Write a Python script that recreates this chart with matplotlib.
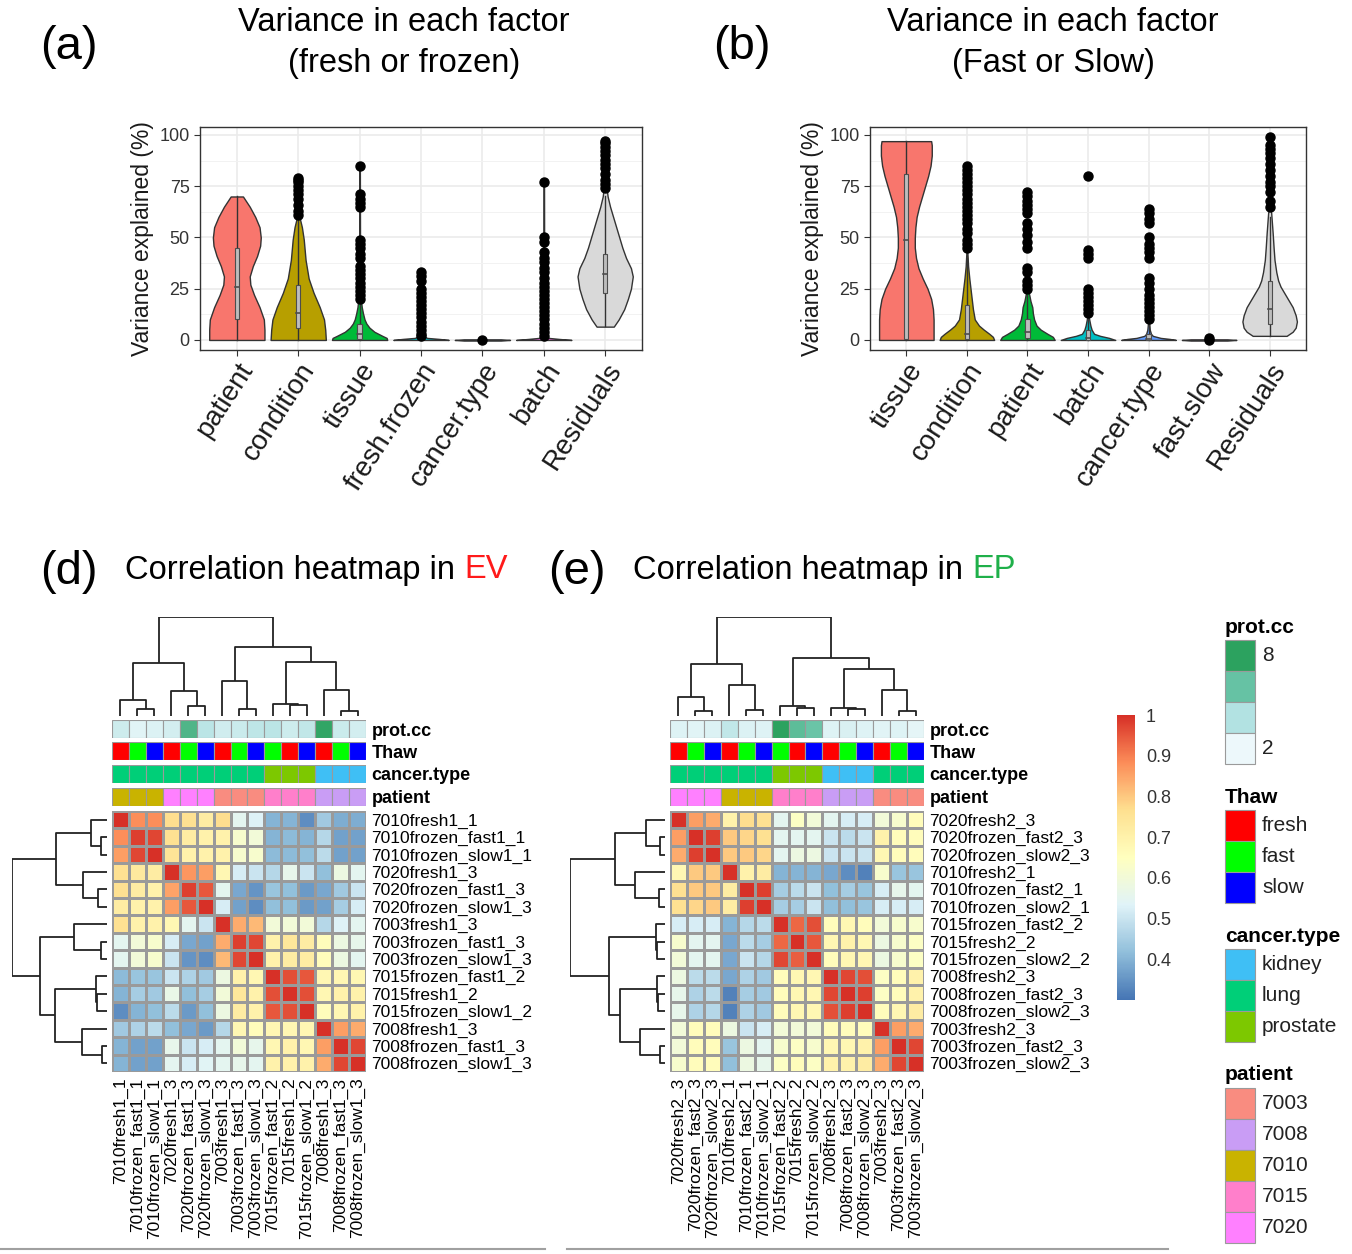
import numpy as np
import matplotlib
matplotlib.use('Agg')
import matplotlib.pyplot as plt
from matplotlib.colors import LinearSegmentedColormap
from matplotlib.patches import Rectangle
from matplotlib.lines import Line2D

plt.rcParams['font.family'] = ['Liberation Sans', 'DejaVu Sans']

# ---------------- violin data: panel (a) fresh or frozen ----------------
factors_a = ['patient', 'condition', 'tissue', 'fresh.frozen', 'cancer.type', 'batch', 'Residuals']
prof_y_a = [
    [0, 5, 10, 16, 22, 27, 31, 36, 41, 46, 50, 55, 60, 65, 70],
    [0, 5, 10, 16, 23, 30, 39, 49, 55, 60],
    [0, 1, 2, 4, 6, 8, 10, 13, 16, 20, 30, 85],
    [0, 0.5, 1, 2, 4, 33],
    [-0.3, 0, 0.3],
    [0, 0.5, 1, 2, 4, 77],
    [6.5, 10, 15, 20, 25, 31, 35, 40, 45, 50, 55, 60, 65, 70, 75, 98],
]
prof_w_a = [
    [0.45, 0.45, 0.44, 0.37, 0.28, 0.22, 0.21, 0.26, 0.33, 0.38, 0.39, 0.37, 0.30, 0.21, 0.10],
    [0.45, 0.44, 0.42, 0.35, 0.25, 0.17, 0.12, 0.09, 0.06, 0.02],
    [0.45, 0.44, 0.37, 0.24, 0.16, 0.11, 0.08, 0.055, 0.035, 0.02, 0.008, 0.004],
    [0.45, 0.30, 0.10, 0.03, 0.01, 0.004],
    [0.30, 0.45, 0.30],
    [0.45, 0.25, 0.08, 0.02, 0.008, 0.004],
    [0.14, 0.22, 0.31, 0.37, 0.42, 0.45, 0.42, 0.34, 0.28, 0.23, 0.18, 0.13, 0.08, 0.04, 0.02, 0.004],
]
# lower whisker, q1, median, q3, upper whisker
box_a = [[0, 10, 26, 45, 70], [0, 6, 13, 27, 60], [0, 0.5, 3, 8, 20], [0, 0, 0.2, 0.5, 1.5],
         [0, 0, 0, 0, 0], [0, 0, 0.2, 0.5, 1.5], [7, 23, 32, 42, 70]]
dots_a = [
    [],
    [61, 63, 66, 69, 71, 73, 75, 77, 78, 79],
    [20, 22, 24, 26, 28, 30, 32, 34, 36, 40, 42, 45, 47, 49, 65, 67, 69, 71, 85],
    [2, 3, 5, 7, 9, 11, 13, 15, 17, 19, 21, 23, 25, 29, 31, 33],
    [0],
    [2, 4, 6, 8, 10, 12, 14, 16, 18, 20, 22, 24, 26, 28, 30, 33, 35, 38, 40, 43, 48, 50, 77],
    [74, 76, 78, 81, 84, 86, 88, 90, 92, 94, 96, 97],
]

# ---------------- violin data: panel (b) fast or slow ----------------
factors_b = ['tissue', 'condition', 'patient', 'batch', 'cancer.type', 'fast.slow', 'Residuals']
prof_y_b = [
    [0, 5, 10, 15, 20, 25, 30, 35, 40, 45, 50, 55, 60, 65, 70, 75, 80, 85, 90, 95, 97],
    [0, 1.5, 3, 5, 7, 10, 15, 20, 25, 30, 36, 45],
    [0, 1.5, 3, 5, 7, 10, 13, 16, 19, 22, 25],
    [0, 1, 2, 3, 5, 7, 10, 13],
    [0, 0.5, 1, 2, 3, 5, 10],
    [-0.3, 0, 0.3],
    [2, 4, 6, 9, 12, 16, 20, 23, 26, 29, 33, 39, 45, 52, 58, 62, 65],
]
prof_w_b = [
    [0.45, 0.45, 0.45, 0.44, 0.41, 0.35, 0.27, 0.20, 0.16, 0.14, 0.14, 0.15, 0.17, 0.21, 0.26, 0.31, 0.36, 0.40, 0.42, 0.42, 0.41],
    [0.45, 0.43, 0.37, 0.28, 0.20, 0.13, 0.10, 0.08, 0.06, 0.04, 0.02, 0.004],
    [0.45, 0.42, 0.33, 0.22, 0.15, 0.11, 0.09, 0.08, 0.05, 0.03, 0.004],
    [0.45, 0.35, 0.20, 0.10, 0.06, 0.04, 0.02, 0.004],
    [0.45, 0.35, 0.20, 0.07, 0.04, 0.02, 0.004],
    [0.30, 0.45, 0.30],
    [0.28, 0.38, 0.43, 0.45, 0.43, 0.38, 0.30, 0.24, 0.18, 0.14, 0.11, 0.08, 0.065, 0.05, 0.035, 0.025, 0.004],
]
box_b = [[0, 0.5, 49, 81, 97], [0, 0.5, 3, 17, 40], [0, 1, 4, 10, 22], [0, 0.2, 1, 5, 12],
         [0, 0, 0.5, 3, 8], [0, 0, 0, 0, 0], [2, 8, 15, 29, 60]]
dots_b = [
    [],
    [45, 47, 49, 52, 54, 57, 59, 61, 63, 65, 67, 69, 71, 73, 75, 77, 79, 81, 83, 85],
    [25, 27, 29, 33, 35, 45, 48, 51, 54, 57, 62, 64, 66, 68, 70, 72],
    [13, 15, 17, 19, 21, 23, 25, 40, 42, 44, 80],
    [10, 12, 14, 16, 18, 20, 22, 25, 28, 30, 40, 43, 45, 47, 50, 57, 59, 62, 64],
    [0, 1],
    [65, 68, 72, 75, 77, 80, 83, 86, 89, 91, 93, 95, 99],
]
violin_colors = ['#F8766D', '#B79F00', '#00BA38', '#00BFC4', '#619CFF', '#F564E3', '#D9D9D9']

# ---------------- heatmap (d) EV ----------------
labels_ev = ['7010fresh1_1', '7010frozen_fast1_1', '7010frozen_slow1_1', '7020fresh1_3',
             '7020frozen_fast1_3', '7020frozen_slow1_3', '7003fresh1_3', '7003frozen_fast1_3',
             '7003frozen_slow1_3', '7015frozen_fast1_2', '7015fresh1_2', '7015frozen_slow1_2',
             '7008fresh1_3', '7008frozen_fast1_3', '7008frozen_slow1_3']
corr_ev = [
    [1.00, 0.88, 0.88, 0.77, 0.76, 0.72, 0.77, 0.55, 0.53, 0.40, 0.40, 0.34, 0.44, 0.39, 0.39],
    [0.88, 0.98, 0.97, 0.76, 0.72, 0.70, 0.70, 0.62, 0.60, 0.40, 0.41, 0.40, 0.47, 0.37, 0.37],
    [0.86, 0.97, 1.00, 0.75, 0.70, 0.70, 0.70, 0.62, 0.62, 0.41, 0.41, 0.42, 0.48, 0.37, 0.37],
    [0.76, 0.73, 0.72, 1.00, 0.87, 0.86, 0.68, 0.52, 0.50, 0.47, 0.56, 0.50, 0.42, 0.58, 0.55],
    [0.76, 0.72, 0.70, 0.85, 0.98, 0.95, 0.55, 0.38, 0.35, 0.43, 0.42, 0.36, 0.38, 0.44, 0.50],
    [0.72, 0.70, 0.70, 0.86, 0.95, 1.00, 0.52, 0.37, 0.34, 0.42, 0.42, 0.36, 0.37, 0.45, 0.52],
    [0.76, 0.70, 0.70, 0.68, 0.55, 0.50, 1.00, 0.84, 0.82, 0.60, 0.60, 0.60, 0.47, 0.53, 0.55],
    [0.55, 0.60, 0.62, 0.52, 0.38, 0.37, 0.84, 0.98, 0.97, 0.70, 0.74, 0.72, 0.66, 0.58, 0.56],
    [0.55, 0.60, 0.62, 0.50, 0.35, 0.34, 0.82, 0.97, 1.00, 0.70, 0.72, 0.72, 0.66, 0.58, 0.55],
    [0.41, 0.43, 0.43, 0.50, 0.46, 0.44, 0.58, 0.70, 0.68, 1.00, 0.96, 0.95, 0.68, 0.68, 0.68],
    [0.40, 0.45, 0.44, 0.57, 0.42, 0.45, 0.60, 0.74, 0.70, 0.96, 1.00, 0.96, 0.68, 0.70, 0.70],
    [0.34, 0.40, 0.42, 0.48, 0.36, 0.42, 0.58, 0.72, 0.70, 0.95, 0.96, 1.00, 0.66, 0.68, 0.70],
    [0.44, 0.46, 0.48, 0.42, 0.38, 0.36, 0.47, 0.68, 0.66, 0.68, 0.68, 0.68, 1.00, 0.86, 0.84],
    [0.40, 0.37, 0.37, 0.56, 0.50, 0.52, 0.55, 0.60, 0.56, 0.68, 0.70, 0.68, 0.86, 1.00, 0.97],
    [0.40, 0.37, 0.37, 0.55, 0.52, 0.54, 0.55, 0.56, 0.55, 0.70, 0.70, 0.70, 0.84, 0.97, 1.00],
]
# merges (left, right, height); ids >= 15 refer to earlier merges
tree_ev = [(1, 2, 20), (0, 15, 50), (4, 5, 30), (3, 17, 77), (16, 18, 160),
           (7, 8, 20), (6, 20, 105), (10, 11, 32), (9, 22, 35), (13, 14, 15),
           (12, 24, 80), (23, 25, 165), (21, 26, 210), (19, 27, 300)]
prot_ev = [3.1, 2.4, 2.6, 2.9, 6.8, 3.7, 3.0, 3.2, 3.6, 3.7, 3.1, 3.5, 7.8, 3.2, 2.9]
thaw_ev = ['fresh', 'fast', 'slow', 'fresh', 'fast', 'slow', 'fresh', 'fast', 'slow',
           'fast', 'fresh', 'slow', 'fresh', 'fast', 'slow']
ctype_ev = ['lung'] * 9 + ['prostate'] * 3 + ['kidney'] * 3
patient_ev = ['7010'] * 3 + ['7020'] * 3 + ['7003'] * 3 + ['7015'] * 3 + ['7008'] * 3

# ---------------- heatmap (e) EP ----------------
labels_ep = ['7020fresh2_3', '7020frozen_fast2_3', '7020frozen_slow2_3', '7010fresh2_1',
             '7010frozen_fast2_1', '7010frozen_slow2_1', '7015frozen_fast2_2', '7015fresh2_2',
             '7015frozen_slow2_2', '7008fresh2_3', '7008frozen_fast2_3', '7008frozen_slow2_3',
             '7003fresh2_3', '7003frozen_fast2_3', '7003frozen_slow2_3']
corr_ep = [
    [1.00, 0.86, 0.84, 0.70, 0.77, 0.76, 0.55, 0.64, 0.60, 0.55, 0.52, 0.52, 0.60, 0.62, 0.66],
    [0.86, 1.00, 0.98, 0.80, 0.78, 0.76, 0.55, 0.55, 0.55, 0.50, 0.48, 0.50, 0.70, 0.66, 0.66],
    [0.84, 0.98, 1.00, 0.80, 0.80, 0.78, 0.55, 0.58, 0.58, 0.50, 0.50, 0.50, 0.68, 0.66, 0.66],
    [0.68, 0.80, 0.80, 1.00, 0.70, 0.72, 0.40, 0.40, 0.40, 0.38, 0.34, 0.32, 0.62, 0.43, 0.43],
    [0.76, 0.80, 0.80, 0.72, 1.00, 0.98, 0.45, 0.48, 0.50, 0.42, 0.45, 0.43, 0.52, 0.56, 0.55],
    [0.76, 0.78, 0.80, 0.72, 0.98, 1.00, 0.45, 0.45, 0.50, 0.42, 0.42, 0.43, 0.52, 0.52, 0.52],
    [0.52, 0.52, 0.52, 0.40, 0.47, 0.48, 1.00, 0.93, 0.96, 0.66, 0.68, 0.66, 0.60, 0.62, 0.62],
    [0.62, 0.55, 0.55, 0.38, 0.48, 0.45, 0.93, 1.00, 0.95, 0.68, 0.70, 0.68, 0.58, 0.62, 0.64],
    [0.60, 0.55, 0.55, 0.38, 0.50, 0.47, 0.97, 0.94, 1.00, 0.66, 0.68, 0.68, 0.58, 0.62, 0.64],
    [0.58, 0.48, 0.48, 0.38, 0.46, 0.44, 0.66, 0.68, 0.68, 1.00, 0.97, 0.96, 0.64, 0.66, 0.70],
    [0.56, 0.46, 0.48, 0.32, 0.45, 0.44, 0.66, 0.68, 0.68, 0.97, 1.00, 0.98, 0.64, 0.66, 0.70],
    [0.56, 0.46, 0.47, 0.32, 0.46, 0.44, 0.66, 0.68, 0.68, 0.96, 0.98, 1.00, 0.66, 0.68, 0.72],
    [0.60, 0.66, 0.66, 0.58, 0.50, 0.52, 0.60, 0.60, 0.60, 0.66, 0.66, 0.66, 1.00, 0.86, 0.84],
    [0.60, 0.66, 0.66, 0.43, 0.58, 0.55, 0.62, 0.64, 0.62, 0.68, 0.68, 0.70, 0.86, 1.00, 0.97],
    [0.62, 0.66, 0.66, 0.42, 0.58, 0.56, 0.64, 0.66, 0.64, 0.70, 0.70, 0.72, 0.84, 0.97, 1.00],
]
tree_ep = [(1, 2, 15), (0, 15, 60), (4, 5, 20), (3, 17, 95), (16, 18, 160),
           (7, 8, 25), (6, 20, 30), (10, 11, 22), (9, 22, 25), (13, 14, 15),
           (12, 24, 80), (23, 25, 145), (21, 26, 180), (19, 27, 305)]
prot_ep = [2.5, 2.4, 2.6, 3.5, 2.6, 2.5, 8.0, 6.3, 5.9, 2.5, 2.7, 2.5, 2.4, 2.5, 2.3]
thaw_ep = ['fresh', 'fast', 'slow', 'fresh', 'fast', 'slow', 'fast', 'fresh', 'slow',
           'fresh', 'fast', 'slow', 'fresh', 'fast', 'slow']
ctype_ep = ['lung'] * 6 + ['prostate'] * 3 + ['kidney'] * 3 + ['lung'] * 3
patient_ep = ['7020'] * 3 + ['7010'] * 3 + ['7015'] * 3 + ['7008'] * 3 + ['7003'] * 3

# annotation palettes
prot_colors = ['#EDF8FB', '#B2E2E2', '#66C2A4', '#2CA25F']
thaw_colors = {'fresh': '#FF0000', 'fast': '#00FF00', 'slow': '#0000FF'}
ctype_colors = {'kidney': '#3FBFF5', 'lung': '#00CF78', 'prostate': '#7DC800'}
patient_colors = {'7003': '#F98C80', '7008': '#C99DF5', '7010': '#C9B300', '7015': '#FF7FCB', '7020': '#FF80FF'}

heat_cmap = LinearSegmentedColormap.from_list(
    'rdylbu7', ['#4575B4', '#91BFDB', '#E0F3F8', '#FFFFBF', '#FEE090', '#FC8D59', '#D73027'])
prot_cmap = LinearSegmentedColormap.from_list('protcc', prot_colors)

W, H = 1352, 1254
fig = plt.figure(figsize=(W / 100, H / 100), dpi=100)


def px_axes(x0, y0, x1, y1):
    return fig.add_axes([x0 / W, 1 - y1 / H, (x1 - x0) / W, (y1 - y0) / H])


def ftext(x, y, s, **kw):
    return fig.text(x / W, 1 - y / H, s, **kw)


def violin_panel(box, factors, prof_y, prof_w, stats, dots):
    ax = px_axes(*box)
    n = len(factors)
    ax.set_xlim(-0.6, n - 0.4)
    ax.set_ylim(-4.9, 103.9)
    ax.set_xticks(range(n))
    ax.set_yticks([0, 25, 50, 75, 100])
    ax.set_yticks([12.5, 37.5, 62.5, 87.5], minor=True)
    ax.grid(True, which='major', color='#EBEBEB', lw=1.2)
    ax.grid(True, which='minor', axis='y', color='#F2F2F2', lw=0.7)
    ax.set_axisbelow(True)
    for i in range(n):
        ys = np.array(prof_y[i], dtype=float)
        ws = np.array(prof_w[i], dtype=float)
        ax.fill_betweenx(ys, i - ws, i + ws, facecolor=violin_colors[i],
                         edgecolor='#333333', lw=1.0, zorder=2)
        lo, q1, med, q3, hi = stats[i]
        ax.plot([i, i], [lo, hi], color='#333333', lw=1.0, zorder=3)
        ax.add_patch(Rectangle((i - 0.035, q1), 0.07, q3 - q1, fc='#BDBDBD',
                               ec='#4D4D4D', lw=0.8, zorder=4))
        ax.plot([i - 0.035, i + 0.035], [med, med], color='#4D4D4D', lw=1.2, zorder=5)
        if dots[i]:
            ax.plot(np.full(len(dots[i]), i), dots[i], 'o', color='black', ms=6.5, zorder=6)
    for s in ax.spines.values():
        s.set_color('#333333')
        s.set_linewidth(1.0)
    ax.tick_params(axis='y', which='major', labelsize=13, labelcolor='#333333', color='#333333', length=4)
    ax.tick_params(axis='y', which='minor', length=0)
    ax.tick_params(axis='x', labelsize=20, labelcolor='#1A1A1A', color='#333333', length=4, pad=2)
    ax.set_xticklabels(factors, rotation=57, ha='right', va='top', rotation_mode='anchor')
    ax.set_ylabel('Variance explained (%)', fontsize=16.5, color='#1A1A1A', labelpad=4)
    return ax


violin_panel((200, 127, 642, 350), factors_a, prof_y_a, prof_w_a, box_a, dots_a)
violin_panel((870, 127, 1306, 350), factors_b, prof_y_b, prof_w_b, box_b, dots_b)

ftext(40, 47, '(a)', fontsize=34, va='center', ha='left')
ftext(713, 47, '(b)', fontsize=34, va='center', ha='left')
ftext(404, 43, 'Variance in each factor\n(fresh or frozen)', fontsize=23.5,
      ha='center', va='center', multialignment='center', linespacing=1.42)
ftext(1053, 43, 'Variance in each factor\n(Fast or Slow)', fontsize=23.5,
      ha='center', va='center', multialignment='center', linespacing=1.42)


def dendro_segments(tree, n):
    pos = {i: i + 0.5 for i in range(n)}
    hgt = {i: 0.0 for i in range(n)}
    segs = []
    for k, (a, b, h) in enumerate(tree):
        segs.append(([pos[a], pos[a], pos[b], pos[b]], [hgt[a], h, h, hgt[b]]))
        pos[n + k] = (pos[a] + pos[b]) / 2
        hgt[n + k] = h
    return segs


def heatmap_panel(hx0, hx1, dx0, mat, labels, tree, prot, thaw, ctype, pat):
    n = len(labels)
    hy0, hy1 = 811, 1072
    ax = px_axes(hx0, hy0, hx1, hy1)
    mesh = ax.pcolormesh(np.array(mat), cmap=heat_cmap, vmin=0.3, vmax=1.0,
                         edgecolors='#9A9A9A', linewidth=0.8)
    ax.set_xlim(0, n)
    ax.set_ylim(n, 0)
    for s in ax.spines.values():
        s.set_visible(False)
    ax.yaxis.tick_right()
    ax.set_yticks(np.arange(n) + 0.5)
    ax.set_yticklabels(labels, fontsize=12.5)
    ax.set_xticks(np.arange(n) + 0.5)
    ax.set_xticklabels(labels, fontsize=12.5, rotation=90, ha='center', va='top')
    ax.tick_params(length=0, pad=4)

    # column annotations
    strips = [('prot.cc', [prot_cmap((v - 2) / 6) for v in prot], 720),
              ('Thaw', [thaw_colors[t] for t in thaw], 742),
              ('cancer.type', [ctype_colors[c] for c in ctype], 765),
              ('patient', [patient_colors[p] for p in pat], 788)]
    for name, cols, top in strips:
        sa = px_axes(hx0, top, hx1, top + 18)
        sa.bar(np.arange(n) + 0.5, 1, width=1, color=cols, edgecolor='#9A9A9A', lw=0.8)
        sa.set_xlim(0, n)
        sa.set_ylim(0, 1)
        for s in sa.spines.values():
            s.set_visible(False)
        sa.set_xticks([])
        sa.yaxis.tick_right()
        sa.set_yticks([0.5])
        sa.set_yticklabels([name], fontsize=13, fontweight='bold')
        sa.tick_params(length=0, pad=4)

    segs = dendro_segments(tree, n)
    root = tree[-1][2]
    # top dendrogram
    ta = px_axes(hx0, 617, hx1, 716)
    for xs, ys in segs:
        ta.plot(xs, ys, color='#222222', lw=1.3, solid_capstyle='butt')
    ta.set_xlim(0, n)
    ta.set_ylim(0, root)
    ta.axis('off')
    # left dendrogram
    la = px_axes(dx0, hy0, hx0 - 5, hy1)
    for xs, ys in segs:
        la.plot(ys, xs, color='#222222', lw=1.3, solid_capstyle='butt')
    la.set_ylim(n, 0)
    la.set_xlim(root, 0)
    la.axis('off')
    return mesh


heatmap_panel(112, 366, 12, corr_ev, labels_ev, tree_ev, prot_ev, thaw_ev, ctype_ev, patient_ev)
mesh = heatmap_panel(670, 924, 570, corr_ep, labels_ep, tree_ep, prot_ep, thaw_ep, ctype_ep, patient_ep)

# colorbar
cax = px_axes(1117, 715, 1135, 1000)
cb = fig.colorbar(mesh, cax=cax, ticks=[1, 0.9, 0.8, 0.7, 0.6, 0.5, 0.4])
cb.ax.set_yticklabels(['1', '0.9', '0.8', '0.7', '0.6', '0.5', '0.4'])
cb.outline.set_visible(False)
cax.tick_params(length=0, labelsize=13, pad=8, labelcolor='#333333')

# panel titles
ftext(40, 572, '(d)', fontsize=34, va='center', ha='left')
ftext(548, 572, '(e)', fontsize=34, va='center', ha='left')
fig.canvas.draw()
rend = fig.canvas.get_renderer()
for x, word, col in [(125, 'EV', '#FF1A1A'), (633, 'EP', '#1FB04A')]:
    t = ftext(x, 570, 'Correlation heatmap in', fontsize=23.5, va='center', ha='left')
    bb = t.get_window_extent(renderer=rend)
    ftext(bb.x1 + 9, 570, word, fontsize=23.5, va='center', ha='left', color=col)

# annotation legend
lg = px_axes(1210, 600, 1352, 1254)
lg.set_xlim(1210, 1352)
lg.set_ylim(1254, 600)
lg.axis('off')
legend_groups = [('prot.cc', prot_colors[::-1], ['8', '', '', '2']),
                 ('Thaw', list(thaw_colors.values()), list(thaw_colors.keys())),
                 ('cancer.type', list(ctype_colors.values()), list(ctype_colors.keys())),
                 ('patient', list(patient_colors.values()), list(patient_colors.keys()))]
y = 627
for title, cols, labs in legend_groups:
    lg.text(1225, y, title, fontsize=15, fontweight='bold', va='center', ha='left')
    top = y + 13
    for k, (c, lab) in enumerate(zip(cols, labs)):
        lg.add_patch(Rectangle((1225, top + 31 * k), 30, 31, fc=c, ec='#9A9A9A', lw=0.8, clip_on=False))
        if lab:
            lg.text(1262, top + 31 * k + 15.5, lab, fontsize=15, va='center', ha='left', color='#222222')
    y = top + 31 * len(cols) + 33

# thin separators at the bottom
fig.add_artist(Line2D([0, 545 / W], [1 - 1249 / H] * 2, color='#A0A0A0', lw=1.5))
fig.add_artist(Line2D([567 / W, 1168 / W], [1 - 1249 / H] * 2, color='#A0A0A0', lw=1.5))

fig.savefig('out.png', dpi=100)
